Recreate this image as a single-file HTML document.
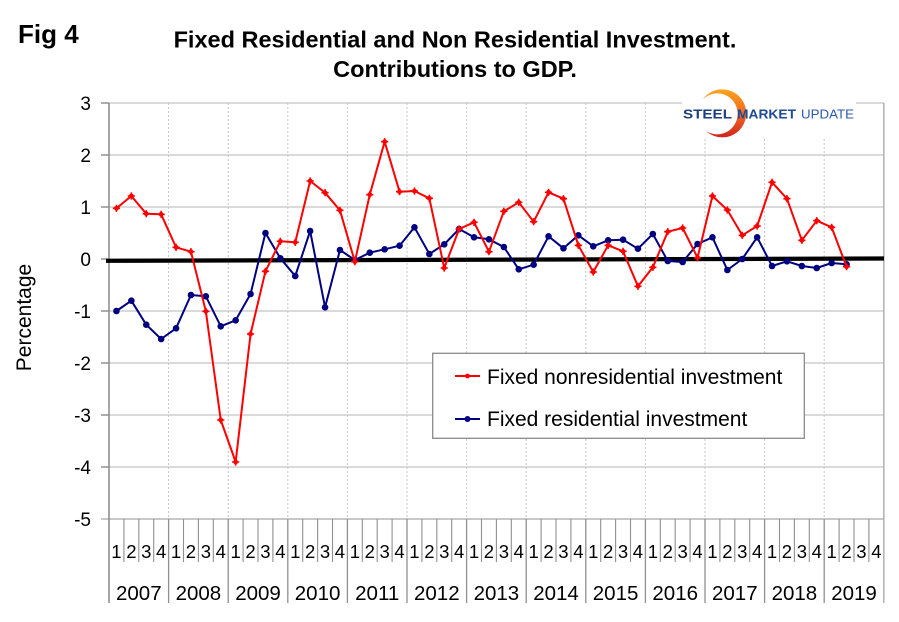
<!DOCTYPE html>
<html>
<head>
<meta charset="utf-8">
<style>
  html,body{margin:0;padding:0;background:#fff;}
  svg{display:block;}
  text{font-family:"Liberation Sans", Arial, sans-serif;}
</style>
</head>
<body>
<svg width="899" height="622" viewBox="0 0 899 622" xmlns="http://www.w3.org/2000/svg">
  <defs>
    <marker id="mb" viewBox="0 0 10 10" refX="5" refY="5" markerWidth="10" markerHeight="10" markerUnits="userSpaceOnUse" overflow="visible">
      <circle cx="5" cy="5" r="3.3" fill="#000080"/>
    </marker>
    <marker id="mr" viewBox="0 0 10 10" refX="5" refY="5" markerWidth="10" markerHeight="10" markerUnits="userSpaceOnUse" overflow="visible">
      <circle cx="5" cy="5" r="2.4" fill="#ff0000"/>
      <path d="M5 1.4 V8.6 M1.4 5 H8.6" stroke="#ff0000" stroke-width="1.6"/>
    </marker>
    <linearGradient id="arcg" x1="0" y1="0" x2="0" y2="1">
      <stop offset="0" stop-color="#f9a51c"/>
      <stop offset="0.5" stop-color="#f26a22"/>
      <stop offset="1" stop-color="#d2231e"/>
    </linearGradient>
  </defs>

  <rect width="899" height="622" fill="#fff"/>

  <!-- Titles -->
  <text x="18" y="43" font-size="26" font-weight="bold" fill="#000">Fig 4</text>
  <text x="455" y="47.5" font-size="23.5" font-weight="bold" text-anchor="middle" fill="#000">Fixed Residential and Non Residential Investment.</text>
  <text x="455" y="77" font-size="23.5" font-weight="bold" text-anchor="middle" fill="#000">Contributions to GDP.</text>

  <!-- horizontal gridlines -->
  <g stroke="#c4c4c4" stroke-width="1.3">
    <line x1="101" y1="103" x2="884" y2="103"/>
    <line x1="101" y1="155" x2="884" y2="155"/>
    <line x1="101" y1="207" x2="884" y2="207"/>
    <line x1="101" y1="259" x2="884" y2="259"/>
    <line x1="101" y1="311" x2="884" y2="311"/>
    <line x1="101" y1="363" x2="884" y2="363"/>
    <line x1="101" y1="415" x2="884" y2="415"/>
    <line x1="101" y1="467" x2="884" y2="467"/>
  </g>
  <!-- tick marks on y axis -->
  <g stroke="#888" stroke-width="1.3">
    <line x1="101" y1="103" x2="109" y2="103"/>
    <line x1="101" y1="155" x2="109" y2="155"/>
    <line x1="101" y1="207" x2="109" y2="207"/>
    <line x1="101" y1="259" x2="109" y2="259"/>
    <line x1="101" y1="311" x2="109" y2="311"/>
    <line x1="101" y1="363" x2="109" y2="363"/>
    <line x1="101" y1="415" x2="109" y2="415"/>
    <line x1="101" y1="467" x2="109" y2="467"/>
  </g>

  <!-- vertical dotted year gridlines -->
  <g stroke="#c4c4c4" stroke-width="1" stroke-dasharray="2,2">
    <line x1="168.6" y1="103" x2="168.6" y2="519"/>
    <line x1="228.2" y1="103" x2="228.2" y2="519"/>
    <line x1="287.8" y1="103" x2="287.8" y2="519"/>
    <line x1="347.4" y1="103" x2="347.4" y2="519"/>
    <line x1="407.0" y1="103" x2="407.0" y2="519"/>
    <line x1="466.6" y1="103" x2="466.6" y2="519"/>
    <line x1="526.2" y1="103" x2="526.2" y2="519"/>
    <line x1="585.8" y1="103" x2="585.8" y2="519"/>
    <line x1="645.4" y1="103" x2="645.4" y2="519"/>
    <line x1="705.0" y1="103" x2="705.0" y2="519"/>
    <line x1="764.6" y1="103" x2="764.6" y2="519"/>
    <line x1="824.2" y1="103" x2="824.2" y2="519"/>
  </g>

  <!-- right border -->
  <line x1="883.8" y1="103" x2="883.8" y2="603" stroke="#b0b0b0" stroke-width="1.5"/>

  <!-- bottom axis line -->
  <line x1="101" y1="519" x2="884" y2="519" stroke="#a8a8a8" stroke-width="1.3"/>

  <!-- quarter separators -->
  <path stroke="#909090" stroke-width="1.1" fill="none" d="
    M123.9 519 V562 M138.8 519 V562 M153.7 519 V562
    M183.5 519 V562 M198.4 519 V562 M213.3 519 V562
    M243.1 519 V562 M258.0 519 V562 M272.9 519 V562
    M302.7 519 V562 M317.6 519 V562 M332.5 519 V562
    M362.3 519 V562 M377.2 519 V562 M392.1 519 V562
    M421.9 519 V562 M436.8 519 V562 M451.7 519 V562
    M481.5 519 V562 M496.4 519 V562 M511.3 519 V562
    M541.1 519 V562 M556.0 519 V562 M570.9 519 V562
    M600.7 519 V562 M615.6 519 V562 M630.5 519 V562
    M660.3 519 V562 M675.2 519 V562 M690.1 519 V562
    M719.9 519 V562 M734.8 519 V562 M749.7 519 V562
    M779.5 519 V562 M794.4 519 V562 M809.3 519 V562
    M839.1 519 V562 M854.0 519 V562 M868.9 519 V562"/>
  <!-- year separators -->
  <path stroke="#909090" stroke-width="1.3" fill="none" d="
    M168.6 519 V603 M228.2 519 V603 M287.8 519 V603 M347.4 519 V603
    M407.0 519 V603 M466.6 519 V603 M526.2 519 V603 M585.8 519 V603
    M645.4 519 V603 M705.0 519 V603 M764.6 519 V603 M824.2 519 V603"/>

  <!-- left axis -->
  <line x1="109" y1="103" x2="109" y2="603" stroke="#888" stroke-width="1.5"/>

  <!-- y tick labels -->
  <g font-size="19" text-anchor="end" fill="#000">
    <text x="91" y="110">3</text>
    <text x="91" y="162">2</text>
    <text x="91" y="214">1</text>
    <text x="91" y="266">0</text>
    <text x="91" y="318">-1</text>
    <text x="91" y="370">-2</text>
    <text x="91" y="422">-3</text>
    <text x="91" y="474">-4</text>
    <text x="91" y="526">-5</text>
  </g>

  <!-- y axis title -->
  <text transform="translate(31,317.5) rotate(-90)" font-size="21" text-anchor="middle" fill="#000">Percentage</text>

  <!-- quarter labels -->
  <g font-size="18.5" text-anchor="middle" fill="#000">
    <text x="116.45" y="558">1</text><text x="131.35" y="558">2</text><text x="146.25" y="558">3</text><text x="161.15" y="558">4</text>
    <text x="176.05" y="558">1</text><text x="190.95" y="558">2</text><text x="205.85" y="558">3</text><text x="220.75" y="558">4</text>
    <text x="235.65" y="558">1</text><text x="250.55" y="558">2</text><text x="265.45" y="558">3</text><text x="280.35" y="558">4</text>
    <text x="295.25" y="558">1</text><text x="310.15" y="558">2</text><text x="325.05" y="558">3</text><text x="339.95" y="558">4</text>
    <text x="354.85" y="558">1</text><text x="369.75" y="558">2</text><text x="384.65" y="558">3</text><text x="399.55" y="558">4</text>
    <text x="414.45" y="558">1</text><text x="429.35" y="558">2</text><text x="444.25" y="558">3</text><text x="459.15" y="558">4</text>
    <text x="474.05" y="558">1</text><text x="488.95" y="558">2</text><text x="503.85" y="558">3</text><text x="518.75" y="558">4</text>
    <text x="533.65" y="558">1</text><text x="548.55" y="558">2</text><text x="563.45" y="558">3</text><text x="578.35" y="558">4</text>
    <text x="593.25" y="558">1</text><text x="608.15" y="558">2</text><text x="623.05" y="558">3</text><text x="637.95" y="558">4</text>
    <text x="652.85" y="558">1</text><text x="667.75" y="558">2</text><text x="682.65" y="558">3</text><text x="697.55" y="558">4</text>
    <text x="712.45" y="558">1</text><text x="727.35" y="558">2</text><text x="742.25" y="558">3</text><text x="757.15" y="558">4</text>
    <text x="772.05" y="558">1</text><text x="786.95" y="558">2</text><text x="801.85" y="558">3</text><text x="816.75" y="558">4</text>
    <text x="831.65" y="558">1</text><text x="846.55" y="558">2</text><text x="861.45" y="558">3</text><text x="876.35" y="558">4</text>
  </g>

  <!-- year labels -->
  <g font-size="20.5" text-anchor="middle" fill="#000">
    <text x="138.8" y="600">2007</text>
    <text x="198.4" y="600">2008</text>
    <text x="258.0" y="600">2009</text>
    <text x="317.6" y="600">2010</text>
    <text x="377.2" y="600">2011</text>
    <text x="436.8" y="600">2012</text>
    <text x="496.4" y="600">2013</text>
    <text x="556.0" y="600">2014</text>
    <text x="615.6" y="600">2015</text>
    <text x="675.2" y="600">2016</text>
    <text x="734.8" y="600">2017</text>
    <text x="794.4" y="600">2018</text>
    <text x="854.0" y="600">2019</text>
  </g>

  <!-- logo -->
  <rect x="682" y="85" width="174" height="52" fill="#fff"/>
  <path d="M703 99 A24 24 0 1 1 706 131 A20.5 20.5 0 1 0 703 99 Z" fill="url(#arcg)"/>
  <text x="683" y="118.3" font-size="13" font-weight="bold" fill="#1c3d7e" textLength="49" lengthAdjust="spacingAndGlyphs">STEEL</text>
  <text x="737" y="118.3" font-size="13" font-weight="bold" fill="#1f4a94" textLength="59" lengthAdjust="spacingAndGlyphs">MARKET</text>
  <text x="801" y="118.3" font-size="13" fill="#2c5aa8" textLength="53" lengthAdjust="spacingAndGlyphs">UPDATE</text>

  <!-- zero line -->
  <line x1="106" y1="260.8" x2="884" y2="258.5" stroke="#000" stroke-width="4.2"/>

  <!-- blue series: Fixed residential investment -->
  <polyline fill="none" stroke="#000080" stroke-width="2" stroke-linejoin="round"
    marker-start="url(#mb)" marker-mid="url(#mb)" marker-end="url(#mb)"
    points="116.45,311 131.35,300.7 146.25,324.7 161.15,339 176.05,328.3 190.95,295 205.85,296.3 220.75,326.3 235.65,320.3 250.55,294 265.45,233 280.35,258.3 295.25,276 310.15,231 325.05,307.3 339.95,250 354.85,260 369.75,252.7 384.65,249.3 399.55,245.7 414.45,227.3 429.35,254 444.25,244.3 459.15,229 474.05,237.3 488.95,239.3 503.85,247 518.75,269.3 533.65,264.7 548.55,236.3 563.45,248.3 578.35,235.3 593.25,246.3 608.15,240.3 623.05,239.7 637.95,248.7 652.85,234 667.75,261 682.65,262 697.55,244 712.45,237.3 727.35,270 742.25,259 757.15,237.3 772.05,266 786.95,261.3 801.85,266 816.75,268 831.65,263 846.55,264.3"/>

  <!-- red series: Fixed nonresidential investment -->
  <polyline fill="none" stroke="#ff0000" stroke-width="2" stroke-linejoin="round"
    marker-start="url(#mr)" marker-mid="url(#mr)" marker-end="url(#mr)"
    points="116.45,208.3 131.35,196 146.25,213.7 161.15,214.3 176.05,247.3 190.95,251.7 205.85,311.3 220.75,420 235.65,462 250.55,334 265.45,271.3 280.35,241.3 295.25,242.3 310.15,181 325.05,192.7 339.95,210.3 354.85,261.7 369.75,194.7 384.65,141.7 399.55,191.7 414.45,191 429.35,198.3 444.25,268 459.15,229 474.05,222.3 488.95,251.7 503.85,211.3 518.75,202.3 533.65,221.7 548.55,192.3 563.45,198.7 578.35,245.3 593.25,272 608.15,245.3 623.05,251.3 637.95,286.3 652.85,267.3 667.75,231.7 682.65,228 697.55,257.7 712.45,196 727.35,210 742.25,235.3 757.15,226 772.05,182.3 786.95,198.7 801.85,240.3 816.75,220.7 831.65,227.3 846.55,266.7"/>

  <!-- legend -->
  <rect x="432.7" y="353.3" width="371.6" height="85" fill="#fff" stroke="#8a8a8a" stroke-width="1.3"/>
  <line x1="455" y1="376" x2="480" y2="376" stroke="#ff0000" stroke-width="2" marker-mid="url(#mr)"/>
  <circle cx="467.5" cy="376" r="2.4" fill="#ff0000"/>
  <line x1="455" y1="419" x2="480" y2="419" stroke="#000080" stroke-width="2"/>
  <circle cx="467.5" cy="419" r="3" fill="#000080"/>
  <text x="487" y="384" font-size="21" fill="#000">Fixed nonresidential investment</text>
  <text x="487" y="426" font-size="21" fill="#000">Fixed residential investment</text>
</svg>
</body>
</html>
